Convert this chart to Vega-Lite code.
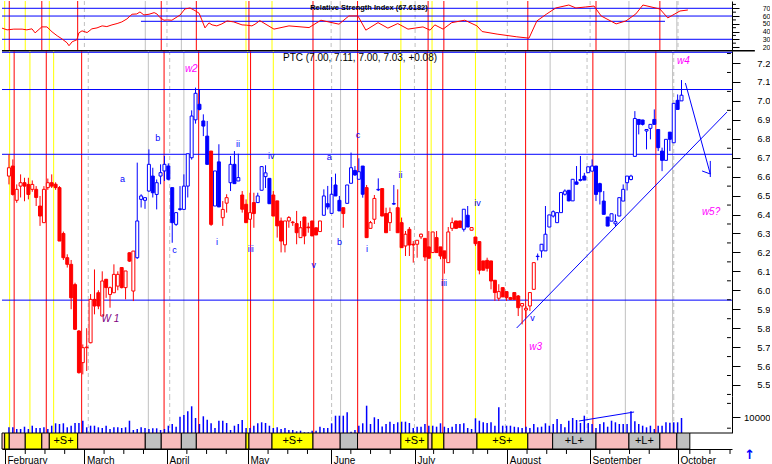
{
"$schema": "https://vega.github.io/schema/vega-lite/v6.json",
"padding": 0,
"spacing": 0,
"bounds": "flush",
"background": "#ffffff",
"config": {"view": {"stroke": null}, "font": "Liberation Sans", "axis": {"grid": false, "domainColor": "#000000", "tickColor": "#000000", "labelColor": "#000000", "domainWidth": 1, "tickWidth": 1, "title": null, "labelOverlap": false, "labelSeparation": 0}},
"resolve": {"scale": {"y": "independent", "color": "independent", "stroke": "independent", "fill": "independent", "strokeDash": "independent"}},
"datasets": {
"candles": [
{"t":0,"o":6.603,"h":6.718,"l":6.559,"c":6.647,"k":"r","v":3560},
{"t":1,"o":6.656,"h":6.691,"l":6.5,"c":6.506,"k":"r","v":3560},
{"t":2,"o":6.475,"h":6.559,"l":6.462,"c":6.533,"k":"r","v":2500},
{"t":3,"o":6.55,"h":6.612,"l":6.49,"c":6.568,"k":"r","v":2500},
{"t":4,"o":6.568,"h":6.594,"l":6.47,"c":6.55,"k":"r","v":3940},
{"t":5,"o":6.559,"h":6.594,"l":6.48,"c":6.506,"k":"r","v":2500},
{"t":6,"o":6.533,"h":6.58,"l":6.52,"c":6.559,"k":"r","v":4560},
{"t":7,"o":6.533,"h":6.55,"l":6.445,"c":6.49,"k":"r","v":3125},
{"t":8,"o":6.445,"h":6.498,"l":6.34,"c":6.392,"k":"r","v":3125},
{"t":9,"o":6.357,"h":6.55,"l":6.357,"c":6.533,"k":"r","v":3560},
{"t":10,"o":6.542,"h":6.59,"l":6.53,"c":6.568,"k":"r","v":2500},
{"t":11,"o":6.568,"h":6.612,"l":6.54,"c":6.55,"k":"r","v":4560},
{"t":12,"o":6.56,"h":6.57,"l":6.53,"c":6.542,"k":"r","v":6060},
{"t":13,"o":6.542,"h":6.55,"l":6.26,"c":6.26,"k":"r","v":5625},
{"t":14,"o":6.3,"h":6.31,"l":6.16,"c":6.172,"k":"r","v":6060},
{"t":15,"o":6.172,"h":6.19,"l":6.12,"c":6.137,"k":"r","v":3560},
{"t":16,"o":6.137,"h":6.16,"l":5.9,"c":5.96,"k":"r","v":4560},
{"t":17,"o":6.03,"h":6.04,"l":5.79,"c":5.794,"k":"r","v":6250},
{"t":18,"o":5.785,"h":5.79,"l":5.56,"c":5.565,"k":"r","v":6250},
{"t":19,"o":5.618,"h":5.714,"l":5.556,"c":5.697,"k":"r","v":7690},
{"t":20,"o":5.697,"h":5.8,"l":5.574,"c":5.7,"k":"r","v":3560},
{"t":21,"o":5.723,"h":5.98,"l":5.72,"c":5.952,"k":"r","v":4560},
{"t":22,"o":5.952,"h":6.11,"l":5.873,"c":5.917,"k":"r","v":4560},
{"t":23,"o":5.987,"h":6.0,"l":5.9,"c":5.917,"k":"r","v":3560},
{"t":24,"o":5.864,"h":6.1,"l":5.864,"c":6.049,"k":"r","v":3125},
{"t":25,"o":6.058,"h":6.06,"l":5.96,"c":6.014,"k":"r","v":4560},
{"t":26,"o":5.978,"h":6.02,"l":5.908,"c":6.014,"k":"r","v":2500},
{"t":27,"o":5.987,"h":6.137,"l":5.987,"c":6.084,"k":"r","v":3560},
{"t":28,"o":6.022,"h":6.1,"l":6.0,"c":6.084,"k":"r","v":3560},
{"t":29,"o":6.12,"h":6.12,"l":6.01,"c":6.014,"k":"r","v":3125},
{"t":30,"o":6.014,"h":6.102,"l":5.952,"c":6.102,"k":"r","v":3560},
{"t":31,"o":6.198,"h":6.2,"l":6.15,"c":6.154,"k":"r","v":7690},
{"t":32,"o":5.996,"h":6.207,"l":5.943,"c":6.207,"k":"r","v":1875},
{"t":33,"o":6.172,"h":6.674,"l":6.166,"c":6.366,"k":"b","v":2500},
{"t":34,"o":6.48,"h":6.507,"l":6.437,"c":6.498,"k":"b","v":3560},
{"t":35,"o":6.475,"h":6.49,"l":6.43,"c":6.489,"k":"b","v":3125},
{"t":36,"o":6.524,"h":6.744,"l":6.52,"c":6.665,"k":"b","v":2500},
{"t":37,"o":6.603,"h":6.647,"l":6.49,"c":6.515,"k":"b","v":2940},
{"t":38,"o":6.506,"h":6.585,"l":6.427,"c":6.568,"k":"b","v":2940},
{"t":39,"o":6.603,"h":6.665,"l":6.56,"c":6.621,"k":"b","v":1875},
{"t":40,"o":6.63,"h":6.709,"l":6.577,"c":6.665,"k":"b","v":2500},
{"t":41,"o":6.656,"h":6.67,"l":6.58,"c":6.586,"k":"b","v":4560},
{"t":42,"o":6.542,"h":6.542,"l":6.251,"c":6.357,"k":"b","v":5625},
{"t":43,"o":6.348,"h":6.41,"l":6.34,"c":6.41,"k":"b","v":3940},
{"t":44,"o":6.43,"h":6.55,"l":6.42,"c":6.427,"k":"b","v":10190},
{"t":45,"o":6.427,"h":6.612,"l":6.427,"c":6.55,"k":"b","v":11250},
{"t":46,"o":6.55,"h":6.72,"l":6.49,"c":6.721,"k":"b","v":13560},
{"t":47,"o":6.7,"h":6.95,"l":6.69,"c":6.92,"k":"b","v":16690},
{"t":48,"o":6.9,"h":7.07,"l":6.88,"c":7.04,"k":"b","v":9375},
{"t":49,"o":6.982,"h":7.06,"l":6.95,"c":6.955,"k":"b","v":5625},
{"t":50,"o":6.894,"h":6.929,"l":6.814,"c":6.867,"k":"b","v":10440},
{"t":51,"o":6.814,"h":6.894,"l":6.665,"c":6.665,"k":"b","v":8310},
{"t":52,"o":6.735,"h":6.735,"l":6.34,"c":6.348,"k":"r","v":6060},
{"t":53,"o":6.445,"h":6.63,"l":6.445,"c":6.63,"k":"b","v":3125},
{"t":54,"o":6.678,"h":6.771,"l":6.44,"c":6.44,"k":"b","v":7690},
{"t":55,"o":6.383,"h":6.471,"l":6.34,"c":6.427,"k":"r","v":7690},
{"t":56,"o":6.46,"h":6.507,"l":6.41,"c":6.489,"k":"r","v":6250},
{"t":57,"o":6.568,"h":6.709,"l":6.524,"c":6.665,"k":"b","v":1875},
{"t":58,"o":6.665,"h":6.735,"l":6.563,"c":6.563,"k":"b","v":4560},
{"t":59,"o":6.577,"h":6.721,"l":6.577,"c":6.595,"k":"b","v":5625},
{"t":60,"o":6.503,"h":6.524,"l":6.41,"c":6.428,"k":"r","v":8125},
{"t":61,"o":6.454,"h":6.48,"l":6.357,"c":6.357,"k":"r","v":3125},
{"t":62,"o":6.375,"h":6.515,"l":6.375,"c":6.41,"k":"r","v":3125},
{"t":63,"o":6.463,"h":6.515,"l":6.33,"c":6.405,"k":"r","v":4560},
{"t":64,"o":6.463,"h":6.515,"l":6.463,"c":6.498,"k":"b","v":6060},
{"t":65,"o":6.528,"h":6.656,"l":6.528,"c":6.653,"k":"b","v":6690},
{"t":66,"o":6.6,"h":6.66,"l":6.54,"c":6.62,"k":"b","v":6250},
{"t":67,"o":6.591,"h":6.591,"l":6.457,"c":6.457,"k":"b","v":4560},
{"t":68,"o":6.503,"h":6.524,"l":6.392,"c":6.392,"k":"r","v":3125},
{"t":69,"o":6.472,"h":6.472,"l":6.278,"c":6.34,"k":"r","v":3560},
{"t":70,"o":6.366,"h":6.384,"l":6.2,"c":6.26,"k":"r","v":2500},
{"t":71,"o":6.24,"h":6.366,"l":6.2,"c":6.366,"k":"r","v":3125},
{"t":72,"o":6.366,"h":6.392,"l":6.33,"c":6.384,"k":"r","v":1875},
{"t":73,"o":6.357,"h":6.366,"l":6.34,"c":6.36,"k":"r","v":1875},
{"t":74,"o":6.352,"h":6.419,"l":6.243,"c":6.304,"k":"r","v":1060},
{"t":75,"o":6.278,"h":6.366,"l":6.278,"c":6.33,"k":"r","v":1440},
{"t":76,"o":6.387,"h":6.387,"l":6.243,"c":6.287,"k":"r","v":440},
{"t":77,"o":6.334,"h":6.357,"l":6.304,"c":6.33,"k":"r","v":440},
{"t":78,"o":6.366,"h":6.366,"l":6.287,"c":6.287,"k":"r","v":1440},
{"t":79,"o":6.33,"h":6.33,"l":6.292,"c":6.292,"k":"r","v":1440},
{"t":80,"o":6.31,"h":6.366,"l":6.31,"c":6.366,"k":"r","v":3940},
{"t":81,"o":6.396,"h":6.533,"l":6.396,"c":6.498,"k":"b","v":3125},
{"t":82,"o":6.457,"h":6.551,"l":6.427,"c":6.44,"k":"b","v":3125},
{"t":83,"o":6.406,"h":6.598,"l":6.406,"c":6.507,"k":"b","v":6060},
{"t":84,"o":6.556,"h":6.616,"l":6.498,"c":6.498,"k":"b","v":10810},
{"t":85,"o":6.475,"h":6.498,"l":6.419,"c":6.419,"k":"b","v":10810},
{"t":86,"o":6.436,"h":6.436,"l":6.33,"c":6.405,"k":"r","v":10810},
{"t":87,"o":6.459,"h":6.556,"l":6.459,"c":6.556,"k":"b","v":12940},
{"t":88,"o":6.565,"h":6.727,"l":6.565,"c":6.647,"k":"b","v":810},
{"t":89,"o":6.633,"h":6.656,"l":6.604,"c":6.609,"k":"b","v":1875},
{"t":90,"o":6.586,"h":6.697,"l":6.586,"c":6.626,"k":"b","v":4560},
{"t":91,"o":6.656,"h":6.656,"l":6.489,"c":6.507,"k":"b","v":6060},
{"t":92,"o":6.542,"h":6.556,"l":6.278,"c":6.278,"k":"r","v":17060},
{"t":93,"o":6.327,"h":6.366,"l":6.327,"c":6.357,"k":"r","v":5625},
{"t":94,"o":6.375,"h":6.503,"l":6.35,"c":6.485,"k":"r","v":9810},
{"t":95,"o":6.53,"h":6.591,"l":6.524,"c":6.533,"k":"b","v":8750},
{"t":96,"o":6.537,"h":6.537,"l":6.392,"c":6.392,"k":"r","v":4000},
{"t":97,"o":6.405,"h":6.436,"l":6.304,"c":6.304,"k":"r","v":5625},
{"t":98,"o":6.357,"h":6.437,"l":6.313,"c":6.41,"k":"r","v":7060},
{"t":99,"o":6.455,"h":6.556,"l":6.45,"c":6.458,"k":"b","v":5625},
{"t":100,"o":6.436,"h":6.533,"l":6.304,"c":6.304,"k":"r","v":6690},
{"t":101,"o":6.357,"h":6.384,"l":6.225,"c":6.225,"k":"r","v":7060},
{"t":102,"o":6.234,"h":6.313,"l":6.181,"c":6.296,"k":"r","v":7060},
{"t":103,"o":6.322,"h":6.334,"l":6.181,"c":6.239,"k":"r","v":6250},
{"t":104,"o":6.243,"h":6.26,"l":6.146,"c":6.239,"k":"r","v":3125},
{"t":105,"o":6.243,"h":6.264,"l":6.172,"c":6.264,"k":"r","v":3940},
{"t":106,"o":6.282,"h":6.3,"l":6.27,"c":6.296,"k":"r","v":3940},
{"t":107,"o":6.274,"h":6.274,"l":6.155,"c":6.176,"k":"r","v":5625},
{"t":108,"o":6.229,"h":6.313,"l":6.169,"c":6.169,"k":"r","v":4560},
{"t":109,"o":6.199,"h":6.308,"l":6.199,"c":6.308,"k":"r","v":4560},
{"t":110,"o":6.278,"h":6.313,"l":6.199,"c":6.199,"k":"r","v":3940},
{"t":111,"o":6.229,"h":6.229,"l":6.164,"c":6.181,"k":"r","v":6060},
{"t":112,"o":6.208,"h":6.208,"l":6.088,"c":6.169,"k":"r","v":3940},
{"t":113,"o":6.146,"h":6.334,"l":6.146,"c":6.308,"k":"r","v":3125},
{"t":114,"o":6.327,"h":6.384,"l":6.313,"c":6.357,"k":"r","v":3940},
{"t":115,"o":6.366,"h":6.366,"l":6.327,"c":6.327,"k":"r","v":5625},
{"t":116,"o":6.366,"h":6.366,"l":6.331,"c":6.331,"k":"r","v":5625},
{"t":117,"o":6.322,"h":6.428,"l":6.31,"c":6.428,"k":"b","v":6060},
{"t":118,"o":6.396,"h":6.445,"l":6.334,"c":6.334,"k":"b","v":3125},
{"t":119,"o":6.317,"h":6.331,"l":6.317,"c":6.331,"k":"r","v":2500},
{"t":120,"o":6.281,"h":6.281,"l":6.234,"c":6.246,"k":"r","v":9190},
{"t":121,"o":6.257,"h":6.257,"l":6.084,"c":6.106,"k":"r","v":7690},
{"t":122,"o":6.155,"h":6.155,"l":6.106,"c":6.106,"k":"r","v":6690},
{"t":123,"o":6.158,"h":6.172,"l":6.099,"c":6.116,"k":"r","v":6250},
{"t":124,"o":6.155,"h":6.155,"l":6.005,"c":6.049,"k":"r","v":6690},
{"t":125,"o":6.053,"h":6.053,"l":5.944,"c":5.988,"k":"r","v":4560},
{"t":126,"o":5.958,"h":6.032,"l":5.944,"c":5.993,"k":"r","v":16060},
{"t":127,"o":6.014,"h":6.014,"l":5.965,"c":5.965,"k":"r","v":4560},
{"t":128,"o":5.993,"h":5.993,"l":5.944,"c":5.961,"k":"r","v":4560},
{"t":129,"o":5.961,"h":5.965,"l":5.95,"c":5.952,"k":"r","v":4560},
{"t":130,"o":5.988,"h":5.988,"l":5.952,"c":5.952,"k":"r","v":3940},
{"t":131,"o":5.97,"h":5.975,"l":5.864,"c":5.908,"k":"r","v":3560},
{"t":132,"o":5.917,"h":5.93,"l":5.82,"c":5.93,"k":"r","v":3125},
{"t":133,"o":5.896,"h":5.917,"l":5.856,"c":5.905,"k":"r","v":3940},
{"t":134,"o":5.917,"h":5.988,"l":5.891,"c":5.988,"k":"r","v":3125},
{"t":135,"o":6.005,"h":6.146,"l":6.005,"c":6.146,"k":"r","v":5625},
{"t":136,"o":6.178,"h":6.194,"l":6.158,"c":6.18,"k":"b","v":3560},
{"t":137,"o":6.208,"h":6.243,"l":6.172,"c":6.243,"k":"b","v":3940},
{"t":138,"o":6.208,"h":6.445,"l":6.208,"c":6.296,"k":"b","v":6060},
{"t":139,"o":6.334,"h":6.398,"l":6.334,"c":6.398,"k":"b","v":4560},
{"t":140,"o":6.392,"h":6.422,"l":6.384,"c":6.415,"k":"b","v":5625},
{"t":141,"o":6.357,"h":6.41,"l":6.357,"c":6.41,"k":"b","v":8750},
{"t":142,"o":6.41,"h":6.516,"l":6.41,"c":6.516,"k":"b","v":5625},
{"t":143,"o":6.507,"h":6.533,"l":6.5,"c":6.524,"k":"b","v":3560},
{"t":144,"o":6.528,"h":6.528,"l":6.47,"c":6.472,"k":"b","v":7690},
{"t":145,"o":6.472,"h":6.586,"l":6.472,"c":6.586,"k":"b","v":9375},
{"t":146,"o":6.572,"h":6.656,"l":6.559,"c":6.56,"k":"b","v":8125},
{"t":147,"o":6.58,"h":6.709,"l":6.575,"c":6.585,"k":"b","v":6250},
{"t":148,"o":6.603,"h":6.62,"l":6.582,"c":6.582,"k":"b","v":10810},
{"t":149,"o":6.621,"h":6.652,"l":6.621,"c":6.652,"k":"b","v":6250},
{"t":150,"o":6.629,"h":6.691,"l":6.629,"c":6.656,"k":"b","v":5625},
{"t":151,"o":6.656,"h":6.656,"l":6.471,"c":6.506,"k":"b","v":3125},
{"t":152,"o":6.563,"h":6.568,"l":6.453,"c":6.52,"k":"b","v":5625},
{"t":153,"o":6.471,"h":6.524,"l":6.401,"c":6.401,"k":"b","v":6690},
{"t":154,"o":6.387,"h":6.387,"l":6.339,"c":6.339,"k":"b","v":3940},
{"t":155,"o":6.365,"h":6.404,"l":6.365,"c":6.404,"k":"b","v":7690},
{"t":156,"o":6.351,"h":6.401,"l":6.339,"c":6.362,"k":"b","v":6690},
{"t":157,"o":6.392,"h":6.489,"l":6.392,"c":6.489,"k":"b","v":5625},
{"t":158,"o":6.471,"h":6.559,"l":6.471,"c":6.533,"k":"b","v":5625},
{"t":159,"o":6.568,"h":6.603,"l":6.527,"c":6.603,"k":"b","v":5625},
{"t":160,"o":6.585,"h":6.61,"l":6.58,"c":6.603,"k":"b","v":13560},
{"t":161,"o":6.707,"h":6.946,"l":6.707,"c":6.907,"k":"b","v":7310},
{"t":162,"o":6.902,"h":6.902,"l":6.823,"c":6.876,"k":"b","v":5625},
{"t":163,"o":6.899,"h":6.9,"l":6.87,"c":6.876,"k":"b","v":4560},
{"t":164,"o":6.841,"h":6.849,"l":6.744,"c":6.849,"k":"b","v":3560},
{"t":165,"o":6.855,"h":6.876,"l":6.797,"c":6.876,"k":"b","v":4560},
{"t":166,"o":6.902,"h":6.955,"l":6.876,"c":6.876,"k":"b","v":2500},
{"t":167,"o":6.849,"h":6.849,"l":6.735,"c":6.753,"k":"b","v":4560},
{"t":168,"o":6.735,"h":6.753,"l":6.629,"c":6.686,"k":"b","v":4560},
{"t":169,"o":6.686,"h":6.797,"l":6.686,"c":6.797,"k":"b","v":6690},
{"t":170,"o":6.835,"h":6.835,"l":6.735,"c":6.797,"k":"b","v":6440},
{"t":171,"o":6.779,"h":6.987,"l":6.779,"c":6.987,"k":"b","v":6690},
{"t":172,"o":7.003,"h":7.034,"l":6.955,"c":6.955,"k":"b","v":6690},
{"t":173,"o":7.0,"h":7.11,"l":7.0,"c":7.03,"k":"b","v":9375}
],
"vlines": [
{"t":20.4,"kind":"D"},{"t":41.35,"kind":"D"},{"t":83.0,"kind":"D"},{"t":104.3,"kind":"D"},{"t":127.7,"kind":"D"},{"t":148.7,"kind":"D"},{"t":171.0,"kind":"D"},
{"t":35.85,"kind":"G"},{"t":45.0,"kind":"G"},{"t":85.3,"kind":"G"},{"t":139.2,"kind":"G"},{"t":158.55,"kind":"G"},{"t":170.7,"kind":"G"},
{"t":0.18,"kind":"Y"},{"t":5.4,"kind":"Y"},{"t":11.5,"kind":"Y"},{"t":61.4,"kind":"Y"},{"t":68.0,"kind":"Y"},{"t":100.7,"kind":"Y"},{"t":108.6,"kind":"Y"},{"t":120.0,"kind":"Y"},
{"t":1.34,"kind":"R"},{"t":9.6,"kind":"R"},{"t":18.7,"kind":"R"},{"t":39.9,"kind":"R"},{"t":48.8,"kind":"R"},{"t":62.15,"kind":"R"},{"t":78.4,"kind":"R"},{"t":89.7,"kind":"R"},{"t":107.6,"kind":"R"},{"t":111.6,"kind":"R"},{"t":132.9,"kind":"R"},{"t":150.2,"kind":"R"},{"t":166.4,"kind":"R"}
],
"rsi": [
{"t":-0.5,"v":44.4},{"t":0.8,"v":42.2},{"t":2.5,"v":43.1},{"t":4.6,"v":43.1},{"t":5.8,"v":42.2},{"t":7.1,"v":43.5},{"t":7.9,"v":38.3},{"t":9.6,"v":46},{"t":10.9,"v":46},{"t":12.2,"v":39.6},{"t":13.5,"v":34.5},{"t":14.7,"v":30.6},{"t":16,"v":25.5},{"t":16.5,"v":21.7},{"t":17.3,"v":26.8},{"t":18.5,"v":29.4},{"t":19,"v":38.3},{"t":19.8,"v":40.9},{"t":21.1,"v":38.7},{"t":22.3,"v":43.5},{"t":23.6,"v":44.7},{"t":24.9,"v":47.3},{"t":26.1,"v":46.4},{"t":27.4,"v":48.6},{"t":28.7,"v":50.3},{"t":29.9,"v":52.4},{"t":31.2,"v":56.3},{"t":32,"v":60.1},{"t":32.5,"v":62.3},{"t":33.7,"v":62.7},{"t":34.5,"v":65.3},{"t":35.5,"v":61.4},{"t":36.8,"v":62.3},{"t":38.1,"v":64.4},{"t":38.8,"v":62.7},{"t":39.6,"v":57.9},{"t":40.6,"v":54.6},{"t":41.4,"v":55},{"t":42.6,"v":54.6},{"t":44.7,"v":61.4},{"t":45.9,"v":69.1},{"t":47.2,"v":70.4},{"t":48.5,"v":66.9},{"t":49.5,"v":63.6},{"t":50.2,"v":55},{"t":51,"v":44.7},{"t":52,"v":51.2},{"t":52.8,"v":48.6},{"t":54,"v":47.3},{"t":55.3,"v":49.9},{"t":56.6,"v":53.7},{"t":58.3,"v":52.4},{"t":60.4,"v":48.6},{"t":61.6,"v":48.2},{"t":62.9,"v":47.3},{"t":63.7,"v":49.5},{"t":64.9,"v":54.1},{"t":68.5,"v":43.1},{"t":72.3,"v":47.3},{"t":77.4,"v":45.1},{"t":80.4,"v":54.6},{"t":85,"v":49.5},{"t":87.5,"v":60.1},{"t":89.8,"v":60.1},{"t":91.8,"v":41.8},{"t":94.9,"v":51.5},{"t":97.4,"v":44.4},{"t":99.9,"v":50.3},{"t":102.5,"v":43.1},{"t":106.3,"v":46},{"t":108.1,"v":41.8},{"t":109.3,"v":48.6},{"t":111.4,"v":43.1},{"t":113.6,"v":51.5},{"t":116.9,"v":54.6},{"t":120,"v":47.3},{"t":121.3,"v":40},{"t":125.1,"v":36.7},{"t":130.1,"v":33.2},{"t":133.2,"v":31.5},{"t":135.2,"v":53.7},{"t":137.7,"v":62.7},{"t":140,"v":70.4},{"t":143.3,"v":74.2},{"t":145.1,"v":70.4},{"t":147.6,"v":71.7},{"t":149.7,"v":72.9},{"t":151.5,"v":60.1},{"t":155.3,"v":49.9},{"t":157.8,"v":53.7},{"t":160.3,"v":62.7},{"t":162.1,"v":74.2},{"t":166.4,"v":69.1},{"t":168.4,"v":57.6},{"t":170.2,"v":62.7},{"t":171.5,"v":66.5},{"t":173.5,"v":67.8}
],
"band": [
{"a":-0.5,"b":0.18,"kind":"H","lab":""},{"a":0.18,"b":1.34,"kind":"Y","lab":""},{"a":1.34,"b":5.4,"kind":"H","lab":""},{"a":5.4,"b":9.6,"kind":"Y","lab":""},{"a":9.6,"b":11.5,"kind":"H","lab":""},{"a":11.5,"b":18.7,"kind":"Y","lab":"+S+"},{"a":18.7,"b":35.85,"kind":"H","lab":""},{"a":35.85,"b":39.9,"kind":"G","lab":""},{"a":39.9,"b":45.0,"kind":"H","lab":""},{"a":45.0,"b":48.8,"kind":"G","lab":""},{"a":48.8,"b":61.4,"kind":"H","lab":""},{"a":61.4,"b":62.15,"kind":"Y","lab":""},{"a":62.15,"b":68.0,"kind":"H","lab":""},{"a":68.0,"b":78.4,"kind":"Y","lab":"+S+"},{"a":78.4,"b":85.3,"kind":"H","lab":""},{"a":85.3,"b":89.7,"kind":"G","lab":""},{"a":89.7,"b":100.7,"kind":"H","lab":""},{"a":100.7,"b":107.6,"kind":"Y","lab":"+S+"},{"a":107.6,"b":108.6,"kind":"H","lab":""},{"a":108.6,"b":111.6,"kind":"Y","lab":""},{"a":111.6,"b":120.0,"kind":"H","lab":""},{"a":120.0,"b":132.9,"kind":"Y","lab":"+S+"},{"a":132.9,"b":139.2,"kind":"H","lab":""},{"a":139.2,"b":150.2,"kind":"G","lab":"+L+"},{"a":150.2,"b":158.55,"kind":"H","lab":""},{"a":158.55,"b":166.4,"kind":"G","lab":"+L+"},{"a":166.4,"b":170.7,"kind":"H","lab":""},{"a":170.7,"b":174.0,"kind":"G","lab":""}
]
},
"vconcat": [
{
"width": 730, "height": 50,
"layer": [
{"data": {"name": "vlines"}, "mark": {"type": "rule", "strokeWidth": 1},
 "encoding": {"x": {"field": "t", "type": "quantitative", "scale": {"domain": [-0.5, 184.7], "nice": false, "zero": false}, "axis": null},
  "color": {"field": "kind", "type": "nominal", "scale": {"domain": ["R","Y","G","D"], "range": ["#ff0000","#ffff00","#c0c0c0","#c0c0c0"]}, "legend": null},
  "strokeDash": {"field": "kind", "type": "nominal", "scale": {"domain": ["R","Y","G","D"], "range": [[1,0],[1,0],[1,0],[4,3]]}, "legend": null}}},
{"data": {"values": [{"y": 70}, {"y": 60}, {"y": 30}]}, "mark": {"type": "rule", "color": "#0000ff", "strokeWidth": 1},
 "encoding": {"y": {"field": "y", "type": "quantitative", "scale": {"domain": [14.9, 79.4], "nice": false, "zero": false},
   "axis": {"orient": "right", "values": [20,30,40,50,60,70], "tickSize": 7, "labelFontSize": 7, "labelAlign": "right", "labelPadding": 31, "labelBaseline": "middle", "labelOverlap": false, "labelSeparation": 0, "labelBound": false, "labelFlush": false, "title": null}}}},
{"data": {"values": [{"y": 25}, {"y": 35}, {"y": 45}, {"y": 55}, {"y": 65}, {"y": 75}]}, "mark": {"type": "rule", "color": "#000000", "strokeWidth": 1},
 "encoding": {"x": {"datum": 184.7, "type": "quantitative", "scale": {"domain": [-0.5, 184.7], "nice": false, "zero": false}, "axis": null}, "x2": {"datum": 185.7},
  "y": {"field": "y", "type": "quantitative", "scale": {"domain": [14.9, 79.4], "nice": false, "zero": false}, "axis": {"orient": "right", "values": [20,30,40,50,60,70], "tickSize": 7, "labelFontSize": 7, "labelAlign": "right", "labelPadding": 31, "labelBaseline": "middle", "labelOverlap": false, "labelSeparation": 0, "labelBound": false, "labelFlush": false, "title": null}}}},
{"data": {"values": [{"a": 34.75, "b": 167.7, "y": 53.2}]}, "mark": {"type": "rule", "color": "#0000ff", "strokeWidth": 1},
 "encoding": {"x": {"field": "a", "type": "quantitative", "scale": {"domain": [-0.5, 184.7], "nice": false, "zero": false}, "axis": null}, "x2": {"field": "b"},
  "y": {"field": "y", "type": "quantitative", "scale": {"domain": [14.9, 79.4], "nice": false, "zero": false}, "axis": {"orient": "right", "values": [20,30,40,50,60,70], "tickSize": 7, "labelFontSize": 7, "labelAlign": "right", "labelPadding": 31, "labelBaseline": "middle", "labelOverlap": false, "labelSeparation": 0, "labelBound": false, "labelFlush": false, "title": null}}}},
{"data": {"values": [{"a": -0.5, "b": 190.5, "y": 15.3}]}, "mark": {"type": "rule", "color": "#000000", "strokeWidth": 1.5},
 "encoding": {"x": {"field": "a", "type": "quantitative", "scale": {"domain": [-0.5, 184.7], "nice": false, "zero": false}, "axis": null}, "x2": {"field": "b"},
  "y": {"field": "y", "type": "quantitative", "scale": {"domain": [14.9, 79.4], "nice": false, "zero": false}, "axis": {"orient": "right", "values": [20,30,40,50,60,70], "tickSize": 7, "labelFontSize": 7, "labelAlign": "right", "labelPadding": 31, "labelBaseline": "middle", "labelOverlap": false, "labelSeparation": 0, "labelBound": false, "labelFlush": false, "title": null}}}},
{"data": {"name": "rsi"}, "mark": {"type": "line", "color": "#ff0000", "strokeWidth": 1},
 "encoding": {"x": {"field": "t", "type": "quantitative", "scale": {"domain": [-0.5, 184.7], "nice": false, "zero": false}, "axis": null},
  "y": {"field": "v", "type": "quantitative", "scale": {"domain": [14.9, 79.4], "nice": false, "zero": false}, "axis": {"orient": "right", "values": [20,30,40,50,60,70], "tickSize": 7, "labelFontSize": 7, "labelAlign": "right", "labelPadding": 31, "labelBaseline": "middle", "labelOverlap": false, "labelSeparation": 0, "labelBound": false, "labelFlush": false, "title": null}}}},
{"data": {"values": [{"t": 92.6, "v": 70.4, "s": "Relative Strength Index (67.6182)"}]}, "mark": {"type": "text", "fontSize": 7.5, "fontWeight": "bold", "color": "#000000", "baseline": "middle", "align": "center"},
 "encoding": {"x": {"field": "t", "type": "quantitative", "scale": {"domain": [-0.5, 184.7], "nice": false, "zero": false}, "axis": null},
  "y": {"field": "v", "type": "quantitative", "scale": {"domain": [14.9, 79.4], "nice": false, "zero": false}, "axis": {"orient": "right", "values": [20,30,40,50,60,70], "tickSize": 7, "labelFontSize": 7, "labelAlign": "right", "labelPadding": 31, "labelBaseline": "middle", "labelOverlap": false, "labelSeparation": 0, "labelBound": false, "labelFlush": false, "title": null}}, "text": {"field": "s"}}}
]
},
{
"width": 730, "height": 345,
"layer": [
{"data": {"name": "vlines"}, "mark": {"type": "rule", "strokeWidth": 1},
 "encoding": {"x": {"field": "t", "type": "quantitative", "scale": {"domain": [-0.5, 184.7], "nice": false, "zero": false}, "axis": null},
  "color": {"field": "kind", "type": "nominal", "scale": {"domain": ["R","Y","G","D"], "range": ["#ff0000","#ffff00","#c0c0c0","#c0c0c0"]}, "legend": null},
  "strokeDash": {"field": "kind", "type": "nominal", "scale": {"domain": ["R","Y","G","D"], "range": [[1,0],[1,0],[1,0],[4,3]]}, "legend": null}}},
{"data": {"values": [{"p": 7.2565}, {"p": 7.06}, {"p": 6.718}, {"p": 5.948}]}, "mark": {"type": "rule", "color": "#0000ff", "strokeWidth": 1},
 "encoding": {"y": {"field": "p", "type": "quantitative", "scale": {"domain": [5.4418, 7.2634], "nice": false, "zero": false},
   "axis": {"orient": "right", "values": [5.5,5.6,5.7,5.8,5.9,6.0,6.1,6.2,6.3,6.4,6.5,6.6,6.7,6.8,6.9,7.0,7.1,7.2], "format": ".1f", "tickSize": 8, "labelFontSize": 9.5, "labelAlign": "right", "labelPadding": 30, "labelBaseline": "middle", "labelOverlap": false, "labelSeparation": 0, "labelBound": false, "labelFlush": false, "title": null}}}},
{"data": {"values": [{"p":5.45},{"p":5.55},{"p":5.65},{"p":5.75},{"p":5.85},{"p":5.95},{"p":6.05},{"p":6.15},{"p":6.25},{"p":6.35},{"p":6.45},{"p":6.55},{"p":6.65},{"p":6.75},{"p":6.85},{"p":6.95},{"p":7.05},{"p":7.15},{"p":7.25}]},
 "mark": {"type": "rule", "color": "#000000", "strokeWidth": 1},
 "encoding": {"x": {"datum": 184.7, "type": "quantitative", "scale": {"domain": [-0.5, 184.7], "nice": false, "zero": false}, "axis": null}, "x2": {"datum": 185.7},
  "y": {"field": "p", "type": "quantitative", "scale": {"domain": [5.4418, 7.2634], "nice": false, "zero": false}, "axis": {"orient": "right", "values": [5.5,5.6,5.7,5.8,5.9,6.0,6.1,6.2,6.3,6.4,6.5,6.6,6.7,6.8,6.9,7.0,7.1,7.2], "format": ".1f", "tickSize": 8, "labelFontSize": 9.5, "labelAlign": "right", "labelPadding": 30, "labelBaseline": "middle", "labelOverlap": false, "labelSeparation": 0, "labelBound": false, "labelFlush": false, "title": null}}}},
{"data": {"values": [{"t": 130.6, "p": 5.801, "seg": "trend", "i": 0}, {"t": 184.7, "p": 6.941, "seg": "trend", "i": 1}, {"t": 174.0, "p": 7.094, "seg": "arrow", "i": 0}, {"t": 180.4, "p": 6.614, "seg": "arrow", "i": 1}, {"t": 178.3, "p": 6.63, "seg": "head1", "i": 0}, {"t": 180.4, "p": 6.614, "seg": "head1", "i": 1}, {"t": 180.4, "p": 6.683, "seg": "head2", "i": 0}, {"t": 180.4, "p": 6.598, "seg": "head2", "i": 1}]},
 "mark": {"type": "line", "color": "#0000ff", "strokeWidth": 1},
 "encoding": {"x": {"field": "t", "type": "quantitative", "scale": {"domain": [-0.5, 184.7], "nice": false, "zero": false}, "axis": null},
  "y": {"field": "p", "type": "quantitative", "scale": {"domain": [5.4418, 7.2634], "nice": false, "zero": false}, "axis": {"orient": "right", "values": [5.5,5.6,5.7,5.8,5.9,6.0,6.1,6.2,6.3,6.4,6.5,6.6,6.7,6.8,6.9,7.0,7.1,7.2], "format": ".1f", "tickSize": 8, "labelFontSize": 9.5, "labelAlign": "right", "labelPadding": 30, "labelBaseline": "middle", "labelOverlap": false, "labelSeparation": 0, "labelBound": false, "labelFlush": false, "title": null}},
  "detail": {"field": "seg", "type": "nominal"}, "order": {"field": "i", "type": "quantitative"}}},
{"data": {"name": "candles"}, "mark": {"type": "rule", "strokeWidth": 1},
 "encoding": {"x": {"field": "t", "type": "quantitative", "scale": {"domain": [-0.5, 184.7], "nice": false, "zero": false}, "axis": null},
  "y": {"field": "l", "type": "quantitative", "scale": {"domain": [5.4418, 7.2634], "nice": false, "zero": false}, "axis": {"orient": "right", "values": [5.5,5.6,5.7,5.8,5.9,6.0,6.1,6.2,6.3,6.4,6.5,6.6,6.7,6.8,6.9,7.0,7.1,7.2], "format": ".1f", "tickSize": 8, "labelFontSize": 9.5, "labelAlign": "right", "labelPadding": 30, "labelBaseline": "middle", "labelOverlap": false, "labelSeparation": 0, "labelBound": false, "labelFlush": false, "title": null}}, "y2": {"field": "h"},
  "stroke": {"field": "k", "type": "nominal", "scale": {"domain": ["r","b"], "range": ["#ff0000","#0000ff"]}, "legend": null}}},
{"data": {"name": "candles"}, "mark": {"type": "bar", "size": 3, "strokeWidth": 1},
 "encoding": {"x": {"field": "t", "type": "quantitative", "scale": {"domain": [-0.5, 184.7], "nice": false, "zero": false}, "axis": null},
  "y": {"field": "o", "type": "quantitative", "scale": {"domain": [5.4418, 7.2634], "nice": false, "zero": false}, "axis": {"orient": "right", "values": [5.5,5.6,5.7,5.8,5.9,6.0,6.1,6.2,6.3,6.4,6.5,6.6,6.7,6.8,6.9,7.0,7.1,7.2], "format": ".1f", "tickSize": 8, "labelFontSize": 9.5, "labelAlign": "right", "labelPadding": 30, "labelBaseline": "middle", "labelOverlap": false, "labelSeparation": 0, "labelBound": false, "labelFlush": false, "title": null}}, "y2": {"field": "c"},
  "stroke": {"field": "k", "type": "nominal", "scale": {"domain": ["r","b"], "range": ["#ff0000","#0000ff"]}, "legend": null},
  "fill": {"condition": {"test": "datum.c > datum.o", "value": "#ffffff"}, "field": "k", "type": "nominal", "scale": {"domain": ["r","b"], "range": ["#ff0000","#0000ff"]}, "legend": null}}},
{"data": {"values": [{"t":29.2,"p":6.588,"s":"a"},{"t":38.3,"p":6.804,"s":"b"},{"t":42.6,"p":6.213,"s":"c"},{"t":58.9,"p":6.772,"s":"ii"},{"t":53.5,"p":6.255,"s":"i"},{"t":67.5,"p":6.709,"s":"iv"},{"t":62.2,"p":6.218,"s":"iii"},{"t":78.4,"p":6.133,"s":"v"},{"t":82.4,"p":6.704,"s":"a"},{"t":85,"p":6.255,"s":"b"},{"t":89.8,"p":6.82,"s":"c"},{"t":92.1,"p":6.218,"s":"i"},{"t":100.7,"p":6.609,"s":"ii"},{"t":120.5,"p":6.461,"s":"iv"},{"t":111.9,"p":6.038,"s":"iii"},{"t":134.7,"p":5.854,"s":"v"}]},
 "mark": {"type": "text", "fontSize": 9, "color": "#0000ff", "baseline": "middle", "align": "center"},
 "encoding": {"x": {"field": "t", "type": "quantitative", "scale": {"domain": [-0.5, 184.7], "nice": false, "zero": false}, "axis": null},
  "y": {"field": "p", "type": "quantitative", "scale": {"domain": [5.4418, 7.2634], "nice": false, "zero": false}, "axis": {"orient": "right", "values": [5.5,5.6,5.7,5.8,5.9,6.0,6.1,6.2,6.3,6.4,6.5,6.6,6.7,6.8,6.9,7.0,7.1,7.2], "format": ".1f", "tickSize": 8, "labelFontSize": 9.5, "labelAlign": "right", "labelPadding": 30, "labelBaseline": "middle", "labelOverlap": false, "labelSeparation": 0, "labelBound": false, "labelFlush": false, "title": null}}, "text": {"field": "s"}}},
{"data": {"values": [{"t":46.9,"p":7.168,"s":"w2"},{"t":135.5,"p":5.7,"s":"w3"},{"t":173.5,"p":7.21,"s":"w4"},{"t":180.6,"p":6.413,"s":"w5?"}]},
 "mark": {"type": "text", "fontSize": 10, "fontStyle": "italic", "color": "#ff00ff", "baseline": "middle", "align": "center"},
 "encoding": {"x": {"field": "t", "type": "quantitative", "scale": {"domain": [-0.5, 184.7], "nice": false, "zero": false}, "axis": null},
  "y": {"field": "p", "type": "quantitative", "scale": {"domain": [5.4418, 7.2634], "nice": false, "zero": false}, "axis": {"orient": "right", "values": [5.5,5.6,5.7,5.8,5.9,6.0,6.1,6.2,6.3,6.4,6.5,6.6,6.7,6.8,6.9,7.0,7.1,7.2], "format": ".1f", "tickSize": 8, "labelFontSize": 9.5, "labelAlign": "right", "labelPadding": 30, "labelBaseline": "middle", "labelOverlap": false, "labelSeparation": 0, "labelBound": false, "labelFlush": false, "title": null}}, "text": {"field": "s"}}},
{"data": {"values": [{"t":26.1,"p":5.848,"s":"W 1"}]},
 "mark": {"type": "text", "fontSize": 10, "fontStyle": "italic", "color": "#800080", "baseline": "middle", "align": "center"},
 "encoding": {"x": {"field": "t", "type": "quantitative", "scale": {"domain": [-0.5, 184.7], "nice": false, "zero": false}, "axis": null},
  "y": {"field": "p", "type": "quantitative", "scale": {"domain": [5.4418, 7.2634], "nice": false, "zero": false}, "axis": {"orient": "right", "values": [5.5,5.6,5.7,5.8,5.9,6.0,6.1,6.2,6.3,6.4,6.5,6.6,6.7,6.8,6.9,7.0,7.1,7.2], "format": ".1f", "tickSize": 8, "labelFontSize": 9.5, "labelAlign": "right", "labelPadding": 30, "labelBaseline": "middle", "labelOverlap": false, "labelSeparation": 0, "labelBound": false, "labelFlush": false, "title": null}}, "text": {"field": "s"}}},
{"data": {"values": [{"t":90.3,"p":7.226,"s":"PTC (7.00, 7.11, 7.00, 7.03, +0.08)"}]},
 "mark": {"type": "text", "fontSize": 10, "color": "#000000", "baseline": "middle", "align": "center"},
 "encoding": {"x": {"field": "t", "type": "quantitative", "scale": {"domain": [-0.5, 184.7], "nice": false, "zero": false}, "axis": null},
  "y": {"field": "p", "type": "quantitative", "scale": {"domain": [5.4418, 7.2634], "nice": false, "zero": false}, "axis": {"orient": "right", "values": [5.5,5.6,5.7,5.8,5.9,6.0,6.1,6.2,6.3,6.4,6.5,6.6,6.7,6.8,6.9,7.0,7.1,7.2], "format": ".1f", "tickSize": 8, "labelFontSize": 9.5, "labelAlign": "right", "labelPadding": 30, "labelBaseline": "middle", "labelOverlap": false, "labelSeparation": 0, "labelBound": false, "labelFlush": false, "title": null}}, "text": {"field": "s"}}}
]
},
{
"width": 730, "height": 37,
"layer": [
{"data": {"name": "vlines"}, "mark": {"type": "rule", "strokeWidth": 1},
 "encoding": {"x": {"field": "t", "type": "quantitative", "scale": {"domain": [-0.5, 184.7], "nice": false, "zero": false}, "axis": null},
  "color": {"field": "kind", "type": "nominal", "scale": {"domain": ["R","Y","G","D"], "range": ["#ff0000","#ffff00","#c0c0c0","#c0c0c0"]}, "legend": null},
  "strokeDash": {"field": "kind", "type": "nominal", "scale": {"domain": ["R","Y","G","D"], "range": [[1,0],[1,0],[1,0],[4,3]]}, "legend": null}}},
{"data": {"name": "candles"}, "mark": {"type": "bar", "size": 1.5, "color": "#0000ff"},
 "encoding": {"x": {"field": "t", "type": "quantitative", "scale": {"domain": [-0.5, 184.7], "nice": false, "zero": false}, "axis": null},
  "y": {"field": "v", "type": "quantitative", "scale": {"domain": [0, 23125], "nice": false, "zero": false},
   "axis": {"orient": "right", "values": [10000], "tickSize": 8, "labelFontSize": 9.5, "labelAlign": "right", "labelPadding": 30, "labelBaseline": "middle", "labelOverlap": false, "labelBound": false, "labelFlush": false, "format": "d", "title": null}}}},
{"data": {"values": [{"v": 18500}, {"v": 3000}]}, "mark": {"type": "rule", "color": "#000000", "strokeWidth": 1},
 "encoding": {"x": {"datum": 184.7, "type": "quantitative", "scale": {"domain": [-0.5, 184.7], "nice": false, "zero": false}, "axis": null}, "x2": {"datum": 185.7},
  "y": {"field": "v", "type": "quantitative", "scale": {"domain": [0, 23125], "nice": false, "zero": false}, "axis": {"orient": "right", "values": [10000], "tickSize": 8, "labelFontSize": 9.5, "labelAlign": "right", "labelPadding": 30, "labelBaseline": "middle", "labelOverlap": false, "labelBound": false, "labelFlush": false, "format": "d", "title": null}}}},
{"data": {"values": [{"t": 146.6, "v": 7500}, {"t": 160.8, "v": 13125}]}, "mark": {"type": "line", "color": "#0000ff", "strokeWidth": 1},
 "encoding": {"x": {"field": "t", "type": "quantitative", "scale": {"domain": [-0.5, 184.7], "nice": false, "zero": false}, "axis": null},
  "y": {"field": "v", "type": "quantitative", "scale": {"domain": [0, 23125], "nice": false, "zero": false}, "axis": {"orient": "right", "values": [10000], "tickSize": 8, "labelFontSize": 9.5, "labelAlign": "right", "labelPadding": 30, "labelBaseline": "middle", "labelOverlap": false, "labelBound": false, "labelFlush": false, "format": "d", "title": null}}}}
]
},
{
"width": 730, "height": 16,
"layer": [
{"data": {"name": "band"}, "mark": {"type": "rect", "stroke": "#000000", "strokeWidth": 1},
 "encoding": {"x": {"field": "a", "type": "quantitative", "scale": {"domain": [-0.5, 184.7], "nice": false, "zero": false},
   "axis": {"orient": "bottom", "values": [0.25, 20.4, 41.35, 61.9, 83.0, 104.3, 127.7, 148.7, 171.0], "labelExpr": "datum.value < 10 ? 'February' : datum.value < 30 ? 'March' : datum.value < 50 ? 'April' : datum.value < 70 ? 'May' : datum.value < 90 ? 'June' : datum.value < 115 ? 'July' : datum.value < 140 ? 'August' : datum.value < 160 ? 'September' : 'October'", "tickSize": 16, "labelPadding": -2, "labelBaseline": "alphabetic", "labelAlign": "left", "labelOffset": 2, "labelFontSize": 10, "labelOverlap": false, "labelBound": false, "labelFlush": false, "title": null}},
  "x2": {"field": "b"},
  "y": {"datum": 0, "type": "quantitative", "scale": {"domain": [0, 1], "nice": false, "zero": false}, "axis": null}, "y2": {"datum": 1},
  "fill": {"field": "kind", "type": "nominal", "scale": {"domain": ["H","Y","G"], "range": ["#f8bcbc","#ffff00","#c0c0c0"]}, "legend": null}}},
{"data": {"values": [{"a": 174.0, "b": 184.7}]}, "mark": {"type": "rule", "color": "#000000", "strokeWidth": 1},
 "encoding": {"x": {"field": "a", "type": "quantitative", "scale": {"domain": [-0.5, 184.7], "nice": false, "zero": false},
   "axis": {"orient": "bottom", "values": [0.25, 20.4, 41.35, 61.9, 83.0, 104.3, 127.7, 148.7, 171.0], "labelExpr": "datum.value < 10 ? 'February' : datum.value < 30 ? 'March' : datum.value < 50 ? 'April' : datum.value < 70 ? 'May' : datum.value < 90 ? 'June' : datum.value < 115 ? 'July' : datum.value < 140 ? 'August' : datum.value < 160 ? 'September' : 'October'", "tickSize": 16, "labelPadding": -2, "labelBaseline": "alphabetic", "labelAlign": "left", "labelOffset": 2, "labelFontSize": 10, "labelOverlap": false, "labelBound": false, "labelFlush": false, "title": null}},
  "x2": {"field": "b"},
  "y": {"datum": 1, "type": "quantitative", "scale": {"domain": [0, 1], "nice": false, "zero": false}, "axis": null}}},
{"data": {"name": "band"}, "transform": [{"filter": "datum.lab != ''"}, {"calculate": "(datum.a + datum.b) / 2", "as": "m"}],
 "mark": {"type": "text", "fontSize": 11, "color": "#000000", "baseline": "middle", "align": "center"},
 "encoding": {"x": {"field": "m", "type": "quantitative", "scale": {"domain": [-0.5, 184.7], "nice": false, "zero": false},
   "axis": {"orient": "bottom", "values": [0.25, 20.4, 41.35, 61.9, 83.0, 104.3, 127.7, 148.7, 171.0], "labelExpr": "datum.value < 10 ? 'February' : datum.value < 30 ? 'March' : datum.value < 50 ? 'April' : datum.value < 70 ? 'May' : datum.value < 90 ? 'June' : datum.value < 115 ? 'July' : datum.value < 140 ? 'August' : datum.value < 160 ? 'September' : 'October'", "tickSize": 16, "labelPadding": -2, "labelBaseline": "alphabetic", "labelAlign": "left", "labelOffset": 2, "labelFontSize": 10, "labelOverlap": false, "labelBound": false, "labelFlush": false, "title": null}},
  "y": {"datum": 0.5, "type": "quantitative", "scale": {"domain": [0, 1], "nice": false, "zero": false}, "axis": null}, "text": {"field": "lab"}}},
{"data": {"values": [{"t":5.4},{"t":10.4},{"t":15.4},{"t":25.4},{"t":30.4},{"t":35.4},{"t":46.4},{"t":51.4},{"t":56.4},{"t":67},{"t":72},{"t":77},{"t":88},{"t":93},{"t":98},{"t":109},{"t":114},{"t":119},{"t":122.7},{"t":132.7},{"t":137.7},{"t":142.7},{"t":153.7},{"t":158.7},{"t":163.7},{"t":174.0},{"t":179.1},{"t":184.2}]},
 "mark": {"type": "rule", "color": "#000000", "strokeWidth": 1},
 "encoding": {"x": {"field": "t", "type": "quantitative", "scale": {"domain": [-0.5, 184.7], "nice": false, "zero": false},
   "axis": {"orient": "bottom", "values": [0.25, 20.4, 41.35, 61.9, 83.0, 104.3, 127.7, 148.7, 171.0], "labelExpr": "datum.value < 10 ? 'February' : datum.value < 30 ? 'March' : datum.value < 50 ? 'April' : datum.value < 70 ? 'May' : datum.value < 90 ? 'June' : datum.value < 115 ? 'July' : datum.value < 140 ? 'August' : datum.value < 160 ? 'September' : 'October'", "tickSize": 16, "labelPadding": -2, "labelBaseline": "alphabetic", "labelAlign": "left", "labelOffset": 2, "labelFontSize": 10, "labelOverlap": false, "labelBound": false, "labelFlush": false, "title": null}},
  "y": {"datum": 0, "type": "quantitative", "scale": {"domain": [0, 1], "nice": false, "zero": false}, "axis": null}, "y2": {"datum": -0.31}}},
{"data": {"values": [{"t": 189.2, "s": "↑"}]}, "mark": {"type": "text", "fontSize": 13, "fontWeight": "bold", "font": "DejaVu Sans", "color": "#0000ff", "baseline": "middle", "align": "center"},
 "encoding": {"x": {"field": "t", "type": "quantitative", "scale": {"domain": [-0.5, 184.7], "nice": false, "zero": false},
   "axis": {"orient": "bottom", "values": [0.25, 20.4, 41.35, 61.9, 83.0, 104.3, 127.7, 148.7, 171.0], "labelExpr": "datum.value < 10 ? 'February' : datum.value < 30 ? 'March' : datum.value < 50 ? 'April' : datum.value < 70 ? 'May' : datum.value < 90 ? 'June' : datum.value < 115 ? 'July' : datum.value < 140 ? 'August' : datum.value < 160 ? 'September' : 'October'", "tickSize": 16, "labelPadding": -2, "labelBaseline": "alphabetic", "labelAlign": "left", "labelOffset": 2, "labelFontSize": 10, "labelOverlap": false, "labelBound": false, "labelFlush": false, "title": null}},
  "y": {"datum": -0.4, "type": "quantitative", "scale": {"domain": [0, 1], "nice": false, "zero": false}, "axis": null}, "text": {"field": "s"}}}
]
}
]
}
